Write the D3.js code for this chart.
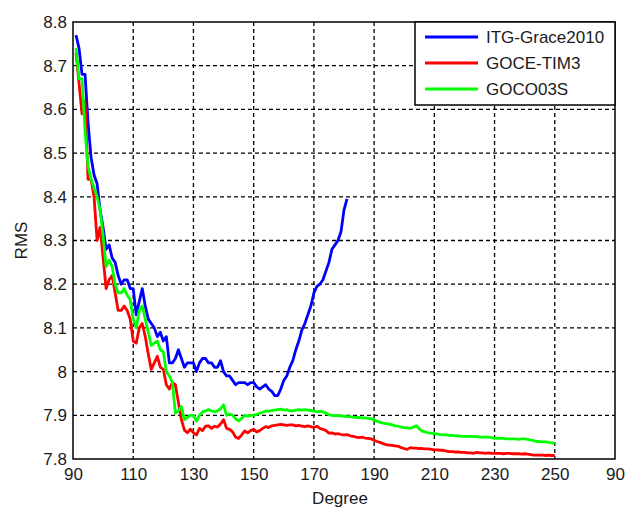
<!DOCTYPE html>
<html><head><meta charset="utf-8">
<script src="https://cdn.jsdelivr.net/npm/d3@7"></script>
<style>body{margin:0;background:#fff}svg{display:block}text{font-family:"Liberation Sans",Arial,sans-serif;}</style>
</head><body><svg id="c" width="627" height="507"></svg>
<script>
const startDegree = 91;
const blueVals = [8.77,8.74,8.68,8.68,8.57,8.49,8.45,8.43,8.37,8.33,8.28,8.29,8.26,8.25,8.22,8.20,8.21,8.21,8.19,8.19,8.13,8.16,8.19,8.15,8.12,8.11,8.10,8.08,8.09,8.07,8.08,8.02,8.02,8.03,8.05,8.03,8.01,8.02,8.02,8.02,8.00,8.02,8.03,8.03,8.02,8.02,8.01,8.01,8.025,8.00,7.99,7.99,7.98,7.97,7.975,7.975,7.975,7.97,7.975,7.975,7.965,7.96,7.965,7.97,7.96,7.955,7.945,7.945,7.96,7.98,7.99,8.01,8.025,8.05,8.07,8.095,8.11,8.13,8.15,8.18,8.195,8.20,8.21,8.23,8.25,8.28,8.29,8.30,8.32,8.37,8.395];
const redVals = [8.73,8.66,8.59,8.62,8.44,8.44,8.40,8.30,8.33,8.26,8.19,8.21,8.22,8.18,8.14,8.14,8.15,8.14,8.12,8.07,8.065,8.10,8.11,8.08,8.04,8.005,8.02,8.035,8.01,8.005,7.97,7.96,7.975,7.97,7.93,7.89,7.866,7.86,7.868,7.86,7.855,7.87,7.865,7.875,7.876,7.87,7.875,7.873,7.88,7.89,7.87,7.868,7.862,7.85,7.847,7.855,7.864,7.86,7.865,7.868,7.862,7.865,7.87,7.874,7.872,7.876,7.877,7.878,7.879,7.878,7.877,7.878,7.878,7.876,7.877,7.875,7.874,7.876,7.874,7.872,7.875,7.87,7.868,7.865,7.859,7.86,7.857,7.858,7.856,7.855,7.856,7.853,7.852,7.85,7.849,7.85,7.848,7.847,7.846,7.843,7.84,7.838,7.835,7.833,7.832,7.831,7.83,7.829,7.826,7.824,7.822,7.826,7.825,7.825,7.824,7.824,7.823,7.823,7.822,7.821,7.821,7.82,7.82,7.818,7.817,7.817,7.816,7.816,7.815,7.815,7.814,7.814,7.813,7.815,7.814,7.814,7.813,7.814,7.813,7.813,7.813,7.813,7.812,7.813,7.813,7.812,7.812,7.812,7.811,7.812,7.811,7.81,7.809,7.809,7.809,7.809,7.808,7.809,7.808,7.808];
const greenVals = [8.74,8.67,8.67,8.55,8.47,8.44,8.42,8.40,8.37,8.31,8.24,8.255,8.24,8.20,8.18,8.18,8.19,8.175,8.165,8.12,8.10,8.14,8.15,8.12,8.09,8.06,8.065,8.07,8.05,8.045,8.00,7.99,7.975,7.905,7.91,7.92,7.89,7.895,7.9,7.90,7.887,7.90,7.908,7.91,7.913,7.91,7.908,7.91,7.915,7.924,7.90,7.903,7.90,7.892,7.887,7.893,7.9,7.898,7.9,7.90,7.902,7.905,7.907,7.91,7.909,7.911,7.912,7.913,7.914,7.912,7.913,7.91,7.91,7.912,7.913,7.912,7.913,7.912,7.911,7.91,7.908,7.909,7.908,7.905,7.901,7.9,7.899,7.9,7.898,7.898,7.897,7.897,7.896,7.895,7.895,7.894,7.894,7.893,7.892,7.89,7.886,7.884,7.882,7.881,7.88,7.878,7.876,7.875,7.873,7.872,7.871,7.87,7.873,7.876,7.869,7.864,7.862,7.86,7.859,7.858,7.857,7.856,7.855,7.855,7.854,7.854,7.853,7.853,7.852,7.852,7.852,7.852,7.851,7.851,7.85,7.85,7.85,7.85,7.849,7.847,7.848,7.847,7.847,7.846,7.846,7.846,7.846,7.845,7.846,7.846,7.845,7.843,7.842,7.84,7.84,7.839,7.839,7.838,7.837,7.836];
const seriesNames = ["ITG-Grace2010","GOCE-TIM3","GOCO03S"];
const seriesColors = ["#0000ff","#ff0000","#00ff00"];
const xTickValues = [90,110,130,150,170,190,210,230,250,270];
const xTickLabels = ["90","110","130","150","170","190","210","230","250","90"];
const yTickValues = [7.8,7.9,8.0,8.1,8.2,8.3,8.4,8.5,8.6,8.7,8.8];
const yTickLabels = ["7.8","7.9","8","8.1","8.2","8.3","8.4","8.5","8.6","8.7","8.8"];

const svg = d3.select("#c");
const L=73, R=615, T=22, B=459;
const x = d3.scaleLinear().domain([90,270]).range([L,R]);
const y = d3.scaleLinear().domain([7.8,8.8]).range([B,T]);

// grid
const g = svg.append("g");
g.selectAll(".vg").data(xTickValues.slice(1,-1)).enter().append("line")
  .attr("x1",d=>x(d)).attr("x2",d=>x(d)).attr("y1",T).attr("y2",B)
  .attr("stroke","#000").attr("stroke-width",1.3).attr("stroke-dasharray","4,3");
g.selectAll(".hg").data(yTickValues.slice(1,-1)).enter().append("line")
  .attr("y1",d=>y(d)).attr("y2",d=>y(d)).attr("x1",L).attr("x2",R)
  .attr("stroke","#000").attr("stroke-width",1.3).attr("stroke-dasharray","4,3");

// axes
const xAxis = d3.axisBottom(x).tickValues(xTickValues).tickFormat((d,i)=>xTickLabels[i]).tickSize(0).tickPadding(6);
const yAxis = d3.axisLeft(y).tickValues(yTickValues).tickFormat((d,i)=>yTickLabels[i]).tickSize(0).tickPadding(6);
const xa = svg.append("g").attr("transform",`translate(0,${B})`).call(xAxis);
const ya = svg.append("g").attr("transform",`translate(${L},0)`).call(yAxis);
[xa,ya].forEach(a=>{a.select(".domain").remove();a.selectAll("text").attr("font-size",17).attr("fill","#1a1a1a").attr("font-family","Liberation Sans, Arial, sans-serif");});
xa.selectAll("text").attr("dy","0.9em");

// series
const seriesData = [blueVals, redVals, greenVals];
const line = d3.line().x((d,i)=>x(startDegree+i)).y(d=>y(d));
svg.append("g").selectAll("path").data(seriesData).enter().append("path")
  .attr("d",line).attr("fill","none").attr("stroke",(d,i)=>seriesColors[i])
  .attr("stroke-width",2.8).attr("stroke-linejoin","round");

// frame
svg.append("rect").attr("x",L).attr("y",T).attr("width",R-L).attr("height",B-T)
  .attr("fill","none").attr("stroke","#000").attr("stroke-width",1.5);

// legend
const lg = svg.append("g");
lg.append("rect").attr("x",415).attr("y",T).attr("width",R-415).attr("height",83)
  .attr("fill","#fff").attr("stroke","#000").attr("stroke-width",1.5);
seriesNames.forEach((n,i)=>{
  const yy = 37 + i*26;
  lg.append("line").attr("x1",425).attr("x2",478).attr("y1",yy).attr("y2",yy)
    .attr("stroke",seriesColors[i]).attr("stroke-width",2.8);
  lg.append("text").attr("x",486).attr("y",yy).attr("dy","0.35em").attr("font-size",17).attr("fill","#1a1a1a").text(n);
});

// axis titles
svg.append("text").attr("x",(L+R)/2-4).attr("y",504).attr("text-anchor","middle").attr("font-size",17).attr("fill","#1a1a1a").text("Degree");
svg.append("text").attr("transform",`translate(27,${(T+B)/2}) rotate(-90)`).attr("text-anchor","middle").attr("font-size",17).attr("fill","#1a1a1a").text("RMS");
</script></body></html>
